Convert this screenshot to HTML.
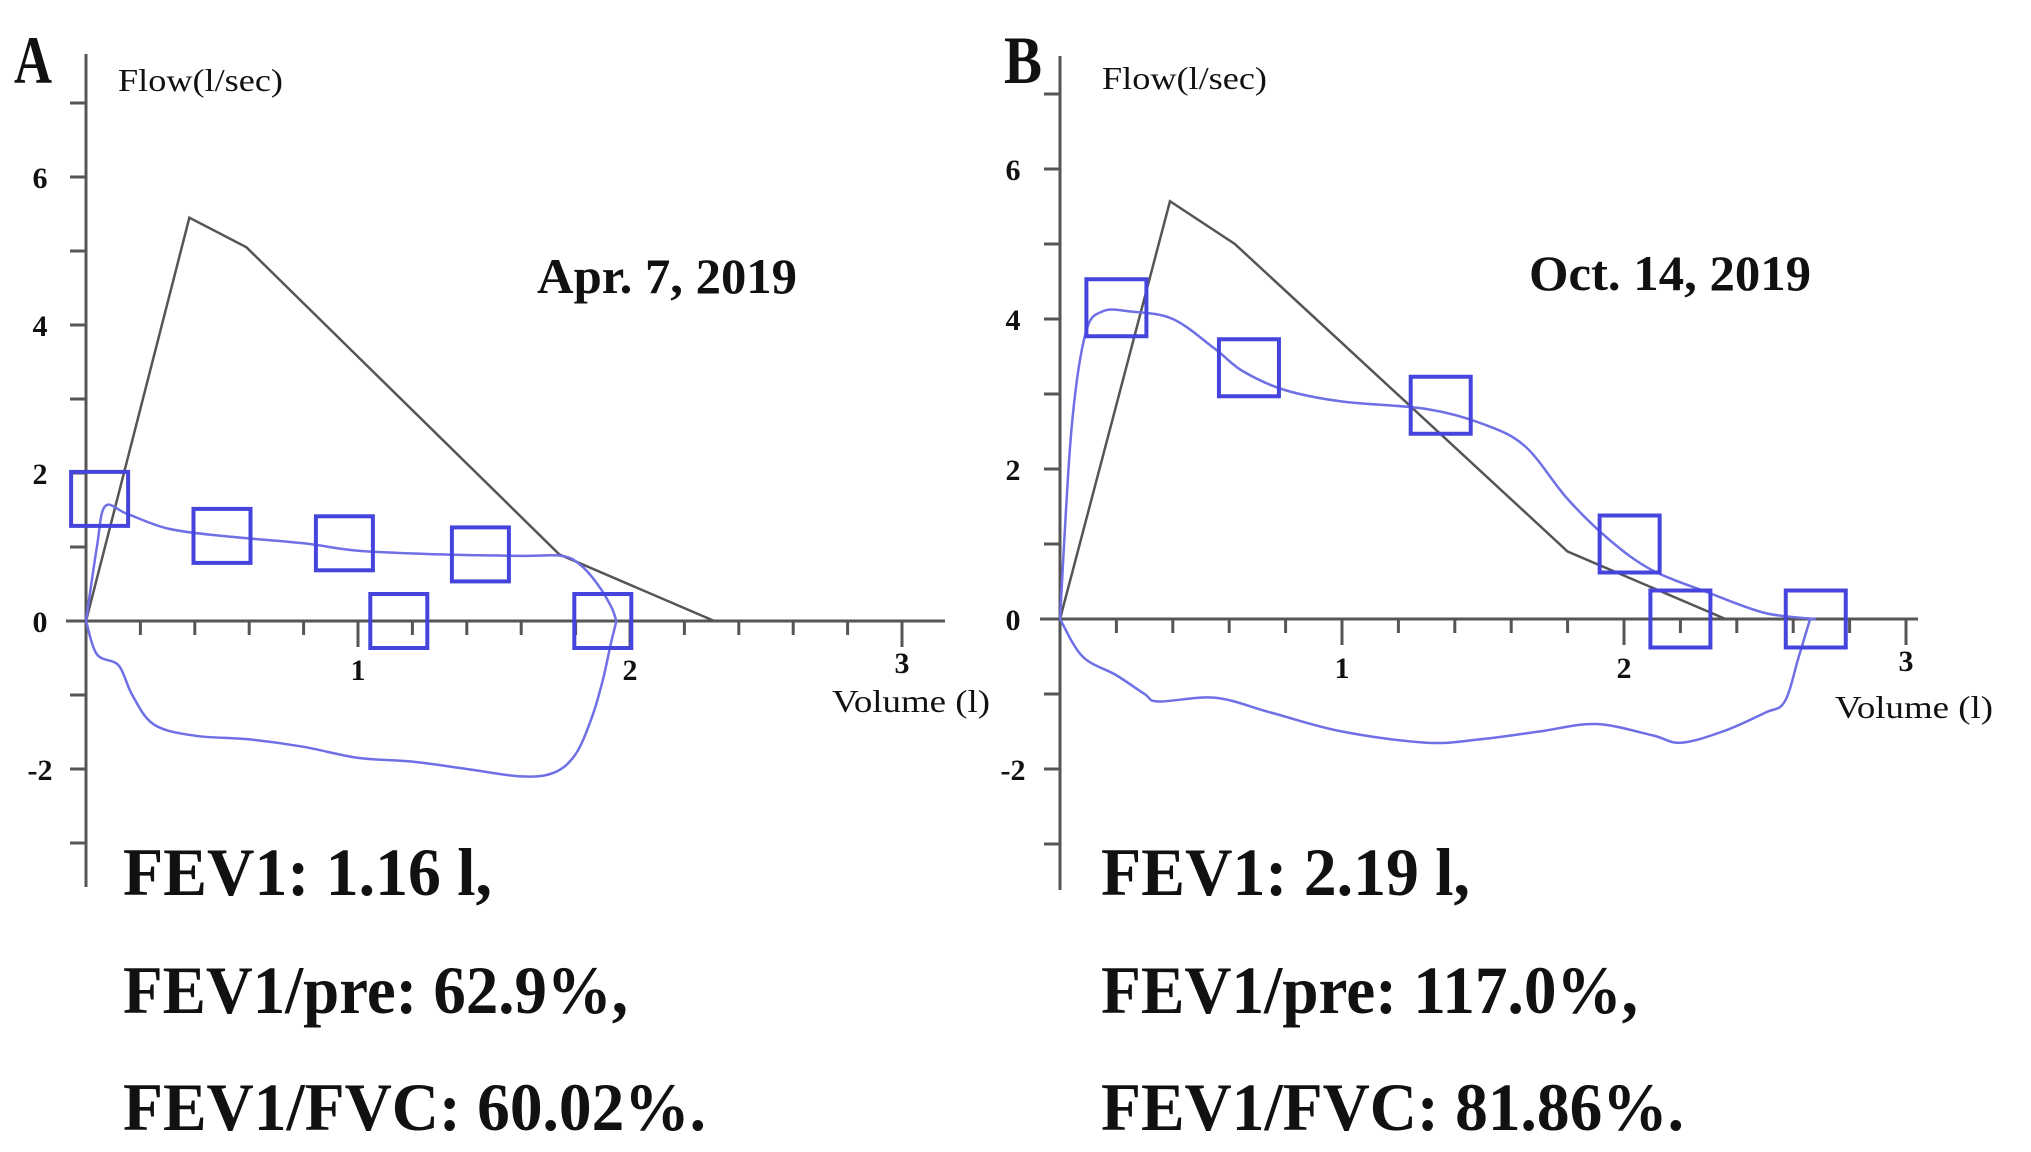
<!DOCTYPE html>
<html><head><meta charset="utf-8"><style>
html,body{margin:0;padding:0;background:#fff;}
svg{display:block;}
</style></head><body>
<svg id="chart" width="2031" height="1152" viewBox="0 0 2031 1152" xmlns="http://www.w3.org/2000/svg" font-family="'Liberation Serif', serif"></svg>
<script>
// ---- Panel A data ----
const refA_x = [0, 0.38, 0.59, 1.74, 2.31];
const refA_y = [0, 5.45, 5.05, 0.9, 0];
const expA_x = [0, 0.04, 0.07, 0.15, 0.3, 0.5, 0.8, 1.0, 1.3, 1.6, 1.75, 1.82, 1.88, 1.93, 1.95];
const expA_y = [0, 1.0, 1.55, 1.45, 1.25, 1.15, 1.05, 0.95, 0.9, 0.88, 0.88, 0.75, 0.5, 0.2, 0];
const insA_x = [0, 0.04, 0.12, 0.17, 0.25, 0.4, 0.6, 0.8, 1.0, 1.2, 1.4, 1.6, 1.72, 1.8, 1.86, 1.9, 1.93, 1.95];
const insA_y = [0, -0.45, -0.6, -1.0, -1.4, -1.55, -1.6, -1.7, -1.85, -1.9, -2.0, -2.1, -2.05, -1.8, -1.3, -0.8, -0.3, 0];
const sqA_x = [0.05, 0.5, 0.95, 1.45, 1.15, 1.9];
const sqA_y = [1.65, 1.15, 1.05, 0.9, 0, 0];
// ---- Panel B data ----
const refB_x = [0, 0.39, 0.62, 1.8, 2.36];
const refB_y = [0, 5.57, 5.0, 0.9, 0];
const expB_x = [0, 0.04, 0.09, 0.15, 0.25, 0.4, 0.55, 0.65, 0.8, 1.0, 1.3, 1.5, 1.65, 1.8, 1.95, 2.1, 2.3, 2.5, 2.68];
const expB_y = [0, 2.5, 3.8, 4.1, 4.1, 4.0, 3.6, 3.3, 3.05, 2.9, 2.8, 2.6, 2.3, 1.6, 1.05, 0.65, 0.35, 0.08, 0];
const insB_x = [0, 0.08, 0.2, 0.3, 0.35, 0.55, 0.75, 1.0, 1.3, 1.5, 1.7, 1.9, 2.1, 2.2, 2.35, 2.5, 2.57, 2.62, 2.66];
const insB_y = [0, -0.5, -0.75, -1.0, -1.1, -1.05, -1.25, -1.5, -1.65, -1.6, -1.5, -1.4, -1.55, -1.65, -1.5, -1.25, -1.1, -0.5, 0];
const sqB_x = [0.2, 0.67, 1.35, 2.02, 2.2, 2.68];
const sqB_y = [4.15, 3.35, 2.85, 1.0, 0, 0];
// ---- axes ----
const yTicks = [-3, -2, -1, 0, 1, 2, 3, 4, 5, 6, 7];
const yLabels = ["-2", "0", "2", "4", "6"];
const xLabels = ["1", "2", "3"];

const NS = "http://www.w3.org/2000/svg";
const svg = document.getElementById('chart');
function el(tag, attrs, parent) {
  const e = document.createElementNS(NS, tag);
  for (const k in attrs) e.setAttribute(k, attrs[k]);
  (parent || svg).appendChild(e);
  return e;
}
function panel(cfg) {
  const g = el('g', {});
  
  
  const sx = v => cfg.x0 + v * cfg.xu;
  const sy = v => cfg.y0 - v * cfg.yu;
  const ya = el('line', {x1: cfg.x0, y1: cfg.yTop, x2: cfg.x0, y2: cfg.yBot, stroke: '#555', 'stroke-width': 3}, g);
  
  
  yTicks.forEach(t => {
    const tk = el('line', {x1: cfg.x0 - 16, y1: sy(t), x2: cfg.x0, y2: sy(t), stroke: '#555', 'stroke-width': 3}, g);
    
    
  });
  yLabels.forEach(l => {
    const t = el('text', {x: cfg.ylx, y: sy(+l) + 11, 'font-size': 30, 'font-weight': 'bold', 'text-anchor': 'middle', fill: '#111'}, g);
    t.textContent = l;
    
    
  });
  const xa = el('line', {x1: cfg.x0 - 20, y1: cfg.y0, x2: cfg.xEnd, y2: cfg.y0, stroke: '#555', 'stroke-width': 3}, g);
  
  
  for (let i = 1; i <= 15; i++) {
    const v = i * 0.2;
    const major = i % 5 === 0;
    const tk = el('line', {x1: sx(v), y1: cfg.y0, x2: sx(v), y2: cfg.y0 + (major ? 26 : 14), stroke: '#555', 'stroke-width': 3}, g);
    
    
  }
  xLabels.forEach((l, i) => {
    const t = el('text', {x: sx(+l), y: cfg.y0 + (i === 2 ? 52 : 59), 'font-size': 30, 'font-weight': 'bold', 'text-anchor': 'middle', fill: '#111'}, g);
    t.textContent = l;
    
    
  });
  const pts = a => a[0].map((v, i) => sx(v) + ',' + sy(a[1][i])).join(' ');
  const ref = el('polyline', {points: pts([cfg.refX, cfg.refY]), fill: 'none', stroke: '#555', 'stroke-width': 2.5}, g);
  
  
  function smooth(xs, ys) {
    let d = 'M' + sx(xs[0]) + ',' + sy(ys[0]);
    for (let i = 1; i < xs.length; i++) {
      const p0 = [sx(xs[Math.max(i - 2, 0)]), sy(ys[Math.max(i - 2, 0)])];
      const p1 = [sx(xs[i - 1]), sy(ys[i - 1])];
      const p2 = [sx(xs[i]), sy(ys[i])];
      const p3 = [sx(xs[Math.min(i + 1, xs.length - 1)]), sy(ys[Math.min(i + 1, xs.length - 1)])];
      const c1 = [p1[0] + (p2[0] - p0[0]) / 6, p1[1] + (p2[1] - p0[1]) / 6];
      const c2 = [p2[0] - (p3[0] - p1[0]) / 6, p2[1] - (p3[1] - p1[1]) / 6];
      d += ' C' + c1 + ' ' + c2 + ' ' + p2;
    }
    return d;
  }
  const ex = el('path', {d: smooth(cfg.expX, cfg.expY), fill: 'none', stroke: '#6f6fe6', 'stroke-width': 2.5}, g);
  
  
  const ins = el('path', {d: smooth(cfg.insX, cfg.insY), fill: 'none', stroke: '#6f6fe6', 'stroke-width': 2.5}, g);
  
  
  cfg.sqX.forEach((v, i) => {
    const r = el('rect', {x: sx(v) - cfg.sqw / 2, y: sy(cfg.sqY[i]) - cfg.sqh / 2, width: cfg.sqw, height: cfg.sqh, fill: 'none', stroke: '#4545dd', 'stroke-width': 4}, g);
    
    
  });
  const txt = (x, y, s, size, w, name, len) => {
    const a = {x: x, y: y, 'font-size': size, 'font-weight': w, fill: '#111'};
    if (len) { a.textLength = len; a.lengthAdjust = 'spacingAndGlyphs'; }
    const t = el('text', a, g);
    t.textContent = s;
    
    
  };
  txt(cfg.letterX, 83, cfg.letter, 68, 'bold', 'panel-letter', 38);
  txt(cfg.flowX, cfg.flowY, 'Flow(l/sec)', 32, 'normal', 'y-axis-title', 165);
  txt(cfg.dateX, cfg.dateY, cfg.date, 50, 'bold', 'date-label', cfg.dateW);
  txt(cfg.volX, cfg.volY, 'Volume (l)', 32, 'normal', 'x-axis-title', 158);
  txt(cfg.statX, 895, cfg.s1, 68, 'bold', 'fev1-value', 369);
  txt(cfg.statX, 1013, cfg.s2, 68, 'bold', 'fev1-predicted', cfg.w2);
  txt(cfg.statX, 1130, cfg.s3, 68, 'bold', 'fev1-fvc-ratio', 583);
}
panel({name: 'panel-a', x0: 86, y0: 621, xu: 272, yu: 74, yTop: 54, yBot: 887, xEnd: 945, ylx: 40,
  refX: refA_x, refY: refA_y, expX: expA_x, expY: expA_y, insX: insA_x, insY: insA_y, sqX: sqA_x, sqY: sqA_y, sqw: 57, sqh: 54,
  letter: 'A', letterX: 14, flowX: 118, flowY: 91, date: 'Apr. 7, 2019', dateX: 537, dateY: 293, dateW: 260,
  volX: 832, volY: 712, statX: 123, s1: 'FEV1: 1.16 l,', s2: 'FEV1/pre: 62.9%,', w2: 505, s3: 'FEV1/FVC: 60.02%.'});
panel({name: 'panel-b', x0: 1060, y0: 619, xu: 282, yu: 75, yTop: 56, yBot: 890, xEnd: 1918, ylx: 1013,
  refX: refB_x, refY: refB_y, expX: expB_x, expY: expB_y, insX: insB_x, insY: insB_y, sqX: sqB_x, sqY: sqB_y, sqw: 60, sqh: 57,
  letter: 'B', letterX: 1004, flowX: 1102, flowY: 89, date: 'Oct. 14, 2019', dateX: 1529, dateY: 290, dateW: 282,
  volX: 1835, volY: 718, statX: 1101, s1: 'FEV1: 2.19 l,', s2: 'FEV1/pre: 117.0%,', w2: 537, s3: 'FEV1/FVC: 81.86%.'});
</script>
</body></html>
